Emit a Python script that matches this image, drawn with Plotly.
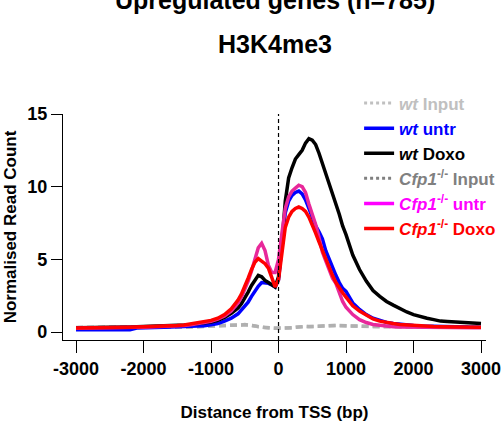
import plotly.graph_objects as go

# ---- data -------------------------------------------------------------
distance = ([-3000, -2900, -2800, -2700, -2600, -2500, -2400, -2300, -2200, -2100,
             -2000, -1900, -1800, -1700, -1600, -1500, -1400, -1300, -1200, -1100,
             -1000, -900, -800, -700]
            + [-600, -550, -500, -450, -400, -350, -300, -250, -200, -150, -100, -50,
               0, 50, 100, 150, 200, 250, 300, 350, 400, 450, 500, 550, 600, 650,
               700, 750, 800, 850, 900, 950, 1000]
            + [1100, 1200, 1300, 1400, 1500, 1600, 1700, 1800, 1900, 2000,
               2100, 2200, 2300, 2400, 2500, 2600, 2700, 2800, 2900, 3000])

wt_input = ([0.30, 0.30, 0.30, 0.31, 0.30, 0.31, 0.30, 0.31, 0.31, 0.30,
             0.31, 0.32, 0.31, 0.32, 0.33, 0.33, 0.34, 0.35, 0.36, 0.37,
             0.39, 0.42, 0.45, 0.47]
            + [0.48, 0.50, 0.50, 0.48, 0.45, 0.40, 0.36, 0.33, 0.30, 0.28, 0.27, 0.26,
               0.25, 0.24, 0.25, 0.27, 0.30, 0.33, 0.36, 0.38, 0.38, 0.37, 0.36, 0.37,
               0.40, 0.42, 0.44, 0.45, 0.45, 0.44, 0.43, 0.42, 0.41]
            + [0.40, 0.39, 0.38, 0.38, 0.37, 0.37, 0.36, 0.36, 0.36, 0.35,
               0.35, 0.35, 0.35, 0.34, 0.34, 0.34, 0.34, 0.34, 0.34, 0.34])

cfp1_input = ([0.31, 0.31, 0.30, 0.30, 0.31, 0.30, 0.31, 0.31, 0.30, 0.31,
               0.32, 0.31, 0.32, 0.33, 0.33, 0.34, 0.35, 0.35, 0.37, 0.38,
               0.40, 0.41, 0.43, 0.46]
              + [0.47, 0.49, 0.51, 0.49, 0.46, 0.42, 0.37, 0.33, 0.31, 0.29, 0.27, 0.26,
                 0.26, 0.25, 0.26, 0.28, 0.30, 0.32, 0.35, 0.37, 0.39, 0.38, 0.37, 0.38,
                 0.39, 0.41, 0.43, 0.44, 0.46, 0.45, 0.44, 0.43, 0.42]
              + [0.41, 0.40, 0.39, 0.38, 0.38, 0.37, 0.37, 0.36, 0.36, 0.36,
                 0.35, 0.35, 0.35, 0.35, 0.34, 0.34, 0.34, 0.34, 0.34, 0.34])

wt_untr = ([0.15, 0.15, 0.15, 0.15, 0.15, 0.15, 0.15, 0.15, 0.16, 0.27,
            0.30, 0.31, 0.32, 0.33, 0.34, 0.35, 0.36, 0.38, 0.40, 0.43,
            0.50, 0.58, 0.75, 0.95]
           + [1.25, 1.50, 1.75, 2.05, 2.45, 2.85, 3.15, 3.40, 3.40, 3.35, 3.25, 3.10,
              3.60, 6.20, 8.20, 9.00, 9.40, 9.60, 9.70, 9.50, 9.10, 8.50, 7.90, 7.30,
              6.90, 6.40, 5.60, 5.00, 4.40, 3.90, 3.40, 3.00, 2.80]
           + [2.00, 1.55, 1.20, 0.95, 0.78, 0.66, 0.58, 0.52, 0.48, 0.45,
              0.42, 0.40, 0.38, 0.37, 0.36, 0.35, 0.34, 0.34, 0.33, 0.33])

wt_doxo = ([0.30, 0.30, 0.30, 0.31, 0.31, 0.32, 0.33, 0.34, 0.35, 0.36,
            0.37, 0.38, 0.40, 0.41, 0.43, 0.45, 0.48, 0.51, 0.55, 0.60,
            0.68, 0.80, 1.00, 1.28]
           + [1.65, 1.95, 2.30, 2.75, 3.20, 3.60, 3.90, 3.80, 3.55, 3.40, 3.25, 3.10,
              3.80, 6.00, 9.00, 10.60, 11.30, 11.90, 12.20, 12.50, 13.00, 13.30, 13.20, 12.90,
              12.30, 11.60, 11.00, 10.20, 9.50, 8.80, 8.10, 7.30, 6.70]
           + [5.30, 4.30, 3.50, 2.85, 2.45, 2.10, 1.85, 1.60, 1.38, 1.20,
              1.05, 0.95, 0.85, 0.75, 0.72, 0.68, 0.65, 0.62, 0.60, 0.58])

cfp1_untr = ([0.26, 0.26, 0.27, 0.27, 0.28, 0.28, 0.29, 0.30, 0.31, 0.32,
              0.33, 0.34, 0.35, 0.37, 0.39, 0.41, 0.44, 0.50, 0.56, 0.64,
              0.74, 0.88, 1.10, 1.45]
             + [2.00, 2.40, 2.90, 3.50, 4.20, 5.00, 5.80, 6.10, 5.60, 4.60, 4.10, 4.10,
                5.00, 6.80, 8.50, 9.30, 9.70, 9.90, 10.10, 10.00, 9.60, 8.80, 8.10, 7.40,
                6.50, 5.50, 4.90, 4.30, 3.70, 3.35, 2.70, 2.10, 1.70]
             + [1.20, 0.85, 0.65, 0.52, 0.45, 0.40, 0.37, 0.35, 0.34, 0.33,
                0.32, 0.32, 0.31, 0.31, 0.30, 0.30, 0.30, 0.30, 0.30, 0.30])

cfp1_doxo = ([0.28, 0.28, 0.29, 0.29, 0.30, 0.30, 0.31, 0.32, 0.33, 0.34,
              0.35, 0.36, 0.38, 0.40, 0.42, 0.45, 0.48, 0.55, 0.62, 0.70,
              0.80, 0.95, 1.20, 1.60]
             + [2.20, 2.60, 3.10, 3.70, 4.30, 4.80, 5.05, 4.90, 4.70, 4.40, 3.80, 3.10,
                3.60, 5.20, 7.20, 7.90, 8.30, 8.50, 8.60, 8.50, 8.30, 7.90, 7.40, 6.80,
                6.20, 5.60, 5.00, 4.40, 3.90, 3.40, 3.00, 2.70, 2.40]
             + [1.80, 1.45, 1.15, 0.90, 0.75, 0.65, 0.58, 0.52, 0.48, 0.45,
                0.42, 0.40, 0.38, 0.37, 0.36, 0.35, 0.35, 0.34, 0.34, 0.33])

x_ticks = [-3000, -2000, -1000, 0, 1000, 2000, 3000]
y_ticks = [0, 5, 10, 15]

FONT = "Liberation Sans, Arial, sans-serif"

# (name, values, line colour, dash, legend text colour, legend line colour, legend dash)
series = [
    ("<i>wt</i> Input", wt_input, "#c4c4c4", "7px,4px", "#c0c0c0", "#c0c0c0", "dot"),
    ("<i>Cfp1</i><sup>-/-</sup> Input", cfp1_input, "#b0b0b0", "7px,4px", "#808080", "#808080", "dot"),
    ("<i>wt</i> untr", wt_untr, "#0000ff", "solid", "#0000ff", "#0000ff", "solid"),
    ("<i>wt</i> Doxo", wt_doxo, "#000000", "solid", "#000000", "#000000", "solid"),
    ("<i>Cfp1</i><sup>-/-</sup> untr", cfp1_untr, "#e8289a", "solid", "#ff00ff", "#ff00ff", "solid"),
    ("<i>Cfp1</i><sup>-/-</sup> Doxo", cfp1_doxo, "#ff0000", "solid", "#ff0000", "#ff0000", "solid"),
]
legend_order = [0, 2, 3, 1, 4, 5]

fig = go.Figure()
for name, vals, col, dash, tcol, lcol, ldash in series:
    fig.add_trace(go.Scatter(x=distance, y=vals, mode="lines",
                             line=dict(color=col, width=3.5, dash=dash),
                             showlegend=False, hoverinfo="skip"))

for i in legend_order:
    name, vals, col, dash, tcol, lcol, ldash = series[i]
    fig.add_trace(go.Scatter(x=[None], y=[None], mode="lines",
                             line=dict(color=lcol, width=3.5 if ldash == "solid" else 3, dash=ldash),
                             name=f"<span style='color:{tcol}'>{name}</span>",
                             showlegend=True))

fig.add_shape(type="line", xref="x", yref="paper", x0=0, x1=0, y0=0, y1=1,
              line=dict(color="black", width=1.2, dash="4px,3px"))

fig.update_layout(
    width=503, height=422,
    margin=dict(l=63, r=17, t=114, b=82, autoexpand=False),
    paper_bgcolor="white", plot_bgcolor="white",
    font=dict(family=FONT, size=18, color="black", weight="bold"),
    showlegend=True,
    legend=dict(x=0.70, y=1.126, xanchor="left", yanchor="top",
                bgcolor="rgba(0,0,0,0)", itemwidth=30,
                font=dict(family=FONT, size=17, weight="bold"),
                tracegroupgap=0),
    xaxis=dict(range=[-3193, 3074], tickvals=x_ticks, ticktext=[str(v) for v in x_ticks],
               showgrid=False, zeroline=False, showline=True, linecolor="black",
               linewidth=1.3, ticks="outside", ticklen=12, tickwidth=1.3,
               tickcolor="black", tickfont=dict(size=18, weight="bold"),
               automargin=False,
               title=dict(text="Distance from TSS (bp)", standoff=28,
                          font=dict(size=17, weight="bold"))),
    yaxis=dict(range=[-0.55, 15], tickvals=y_ticks, showgrid=False, zeroline=False,
               showline=True, linecolor="black", linewidth=1.3, ticks="outside",
               ticklen=11, tickwidth=1.3, tickcolor="black",
               tickfont=dict(size=18, weight="bold"), automargin=False,
               title=dict(text="Normalised Read Count", standoff=6,
                          font=dict(size=17, weight="bold"))),
    annotations=[
        dict(text="Upregulated genes (n=785)", xref="paper", yref="paper",
             x=0.5, y=1.505, xanchor="center", yanchor="middle", showarrow=False,
             font=dict(size=25, weight="bold")),
        dict(text="H3K4me3", xref="paper", yref="paper",
             x=0.5, y=1.31, xanchor="center", yanchor="middle", showarrow=False,
             font=dict(size=25, weight="bold")),
    ],
)

fig.write_html("out.html", config={"displayModeBar": False},
               post_script="document.body.style.margin='0px';")
